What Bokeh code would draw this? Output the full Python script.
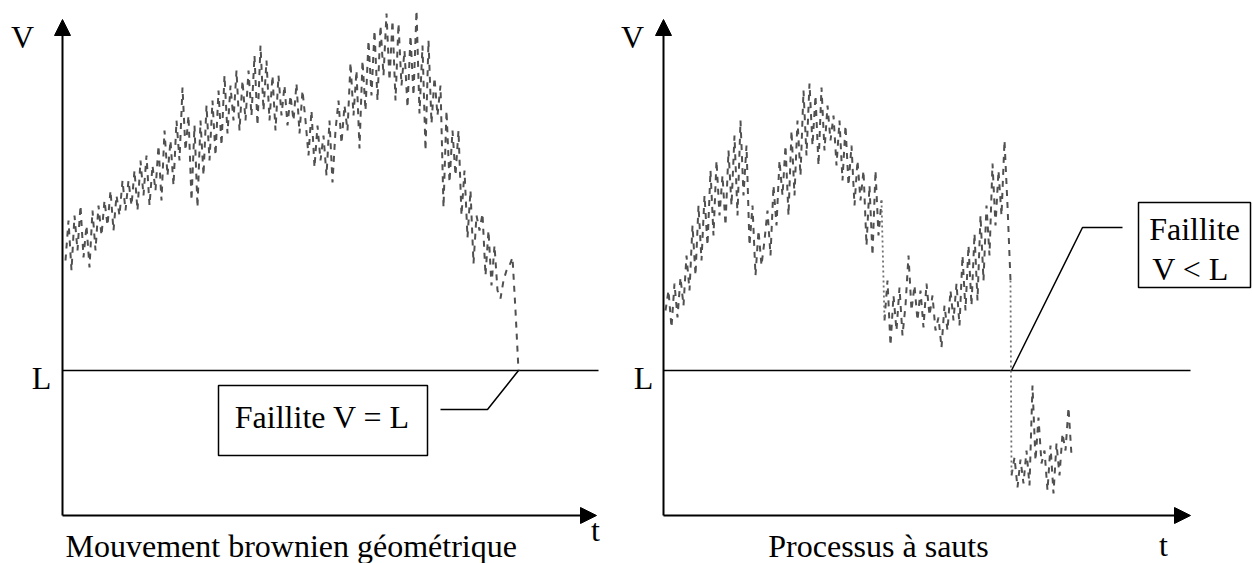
from bokeh.plotting import figure
from bokeh.layouts import row
from bokeh.models import Range1d, Arrow, NormalHead, Label
from bokeh.embed import file_html
from bokeh.resources import INLINE

# ---------------- data ----------------
L_LEVEL = 145          # default barrier L (same unit as V)
T_STEP = 3             # sampling step of the simulated paths

# Left panel: geometric Brownian motion, sampled from t = 3
v_gbm = [
    255, 295, 245, 300, 265, 310, 258, 290, 248, 305,
    265, 310, 280, 315, 290, 325, 285, 320, 300, 335,
    305, 335, 310, 345, 305, 355, 320, 360, 310, 350,
    325, 370, 315, 385, 340, 375, 330, 395, 355, 428,
    365, 400, 315, 390, 308, 395, 340, 410, 355, 415,
    360, 425, 370, 440, 382, 430, 395, 445, 385, 435,
    395, 445, 400, 460, 390, 470, 405, 455, 395, 440,
    385, 440, 400, 430, 390, 420, 395, 432, 382, 425,
    395, 360, 405, 348, 390, 355, 380, 340, 395, 333,
    385, 415, 372, 410, 385, 453, 400, 445, 367, 455,
    405, 475, 420, 485, 415, 490, 440, 502, 435, 495,
    415, 492, 430, 465, 408, 480, 420, 505, 402, 470,
    365, 475, 392, 438, 400, 430, 308, 405, 333, 385,
    340, 385, 300, 345, 278, 325, 252, 300, 285, 302,
    240, 285, 230, 270, 225, 217, 235, 245, 250, 258,
    205, 145,
]
t0_gbm = 3

# Right panel: jump process, three continuous pieces separated by jumps
v_jump1 = [
    205, 225, 188, 232, 198, 238, 210, 260, 225, 290,
    240, 310, 255, 320, 270, 345, 280, 355, 300, 340,
    290, 365, 310, 380, 300, 395, 320, 370, 270, 310,
    240, 285, 250, 275, 305, 260, 330, 290, 355, 320,
    370, 300, 385, 320, 395, 340, 425, 360, 432, 370,
    420, 350, 428, 365, 410, 375, 400, 350, 395, 335,
    390, 330, 370, 310, 355, 315, 345, 270, 330, 260,
    345, 280, 315,
]
t0_jump1 = 2
v_jump2 = [
    195, 235, 170, 220, 185, 228, 180, 210, 260, 205,
    230, 195, 225, 188, 232, 200, 220, 185, 198, 168,
    210, 185, 225, 195, 232, 190, 260, 205, 270, 210,
    282, 215, 300, 235, 310, 260, 352, 290, 345, 300,
    375, 310, 235,
]
t0_jump2 = 221
v_jump3 = [
    40, 58, 28, 56, 32, 65, 30, 130, 55, 98,
    52, 65, 25, 70, 22, 72, 40, 82, 65, 108,
    60,
]
t0_jump3 = 348

FONT = "Liberation Serif"
FS = "32px"
PATH_COLOR = "#505050"
PATH_DASH = "6 6"


def tgrid(t0, vals):
    return [t0 + T_STEP * i for i in range(len(vals))]


def base_fig(width, xr):
    p = figure(width=width, height=563, x_range=Range1d(*xr),
               y_range=Range1d(-48, 515), output_backend="svg",
               toolbar_location=None, min_border=0,
               x_axis_location=None, y_axis_location=None)
    p.grid.visible = False
    p.outline_line_color = None
    p.background_fill_color = "white"
    p.border_fill_color = "white"
    return p


def label(p, x, y, text, align="center"):
    p.add_layout(Label(x=x, y=y, text=text, text_font=FONT, text_font_size=FS,
                       text_align=align, text_baseline="middle", text_color="black"))


def add_axes(p, t_end, l_end, v_lab_x, l_lab_x):
    p.add_layout(Arrow(end=NormalHead(size=16, fill_color="black", line_color="black", line_width=1),
                       x_start=0, y_start=0, x_end=0, y_end=496,
                       line_color="black", line_width=2))
    p.add_layout(Arrow(end=NormalHead(size=16, fill_color="black", line_color="black", line_width=1),
                       x_start=0, y_start=0, x_end=t_end, y_end=0,
                       line_color="black", line_width=2))
    p.line([0, l_end], [L_LEVEL, L_LEVEL], line_color="black", line_width=1.6)
    label(p, v_lab_x, 479, "V")
    label(p, l_lab_x, 138, "L")


# ---------------- left panel ----------------
p1 = base_fig(618, (-62, 556))
add_axes(p1, 534, 536, -40, -21)
t_gbm = tgrid(t0_gbm, v_gbm)
p1.line(t_gbm, v_gbm, line_color=PATH_COLOR, line_width=2, line_dash=PATH_DASH)

# annotation box "Faillite V = L"
p1.quad(left=[156], right=[365], bottom=[60], top=[130],
        fill_color="white", line_color="black", line_width=1.5)
label(p1, 260, 99, "Faillite V = L")
p1.line([378, 425, t_gbm[-1]], [106, 106, L_LEVEL], line_color="black", line_width=1.5)

label(p1, 533, -14, "t")
label(p1, 3, -30, "Mouvement brownien géométrique", align="left")

# ---------------- right panel ----------------
p2 = base_fig(635, (-45, 590))
add_axes(p2, 527, 527, -31, -20)
t1 = tgrid(t0_jump1, v_jump1)
t2 = tgrid(t0_jump2, v_jump2)
t3 = tgrid(t0_jump3, v_jump3)
for tt, vv in ((t1, v_jump1), (t2, v_jump2), (t3, v_jump3)):
    p2.line(tt, vv, line_color=PATH_COLOR, line_width=2, line_dash=PATH_DASH)
# jumps (dotted)
p2.line([t1[-1], t2[0]], [v_jump1[-1], v_jump2[0]], line_color="#707070",
        line_width=1.8, line_dash="2 3")
p2.line([t2[-1], t3[0]], [v_jump2[-1], v_jump3[0]], line_color="#707070",
        line_width=1.8, line_dash="2 3")

# annotation box "Faillite / V < L"
p2.quad(left=[475], right=[587], bottom=[228], top=[313],
        fill_color="white", line_color="black", line_width=1.5)
label(p2, 531, 287, "Faillite")
label(p2, 527, 247, "V < L")
p2.line([459, 419, t3[0]], [288, 288, L_LEVEL], line_color="black", line_width=1.5)

label(p2, 500, -29, "t")
label(p2, 215, -30, "Processus à sauts")

layout = row(p1, p2)
open("out.html", "w").write(file_html(layout, INLINE))
